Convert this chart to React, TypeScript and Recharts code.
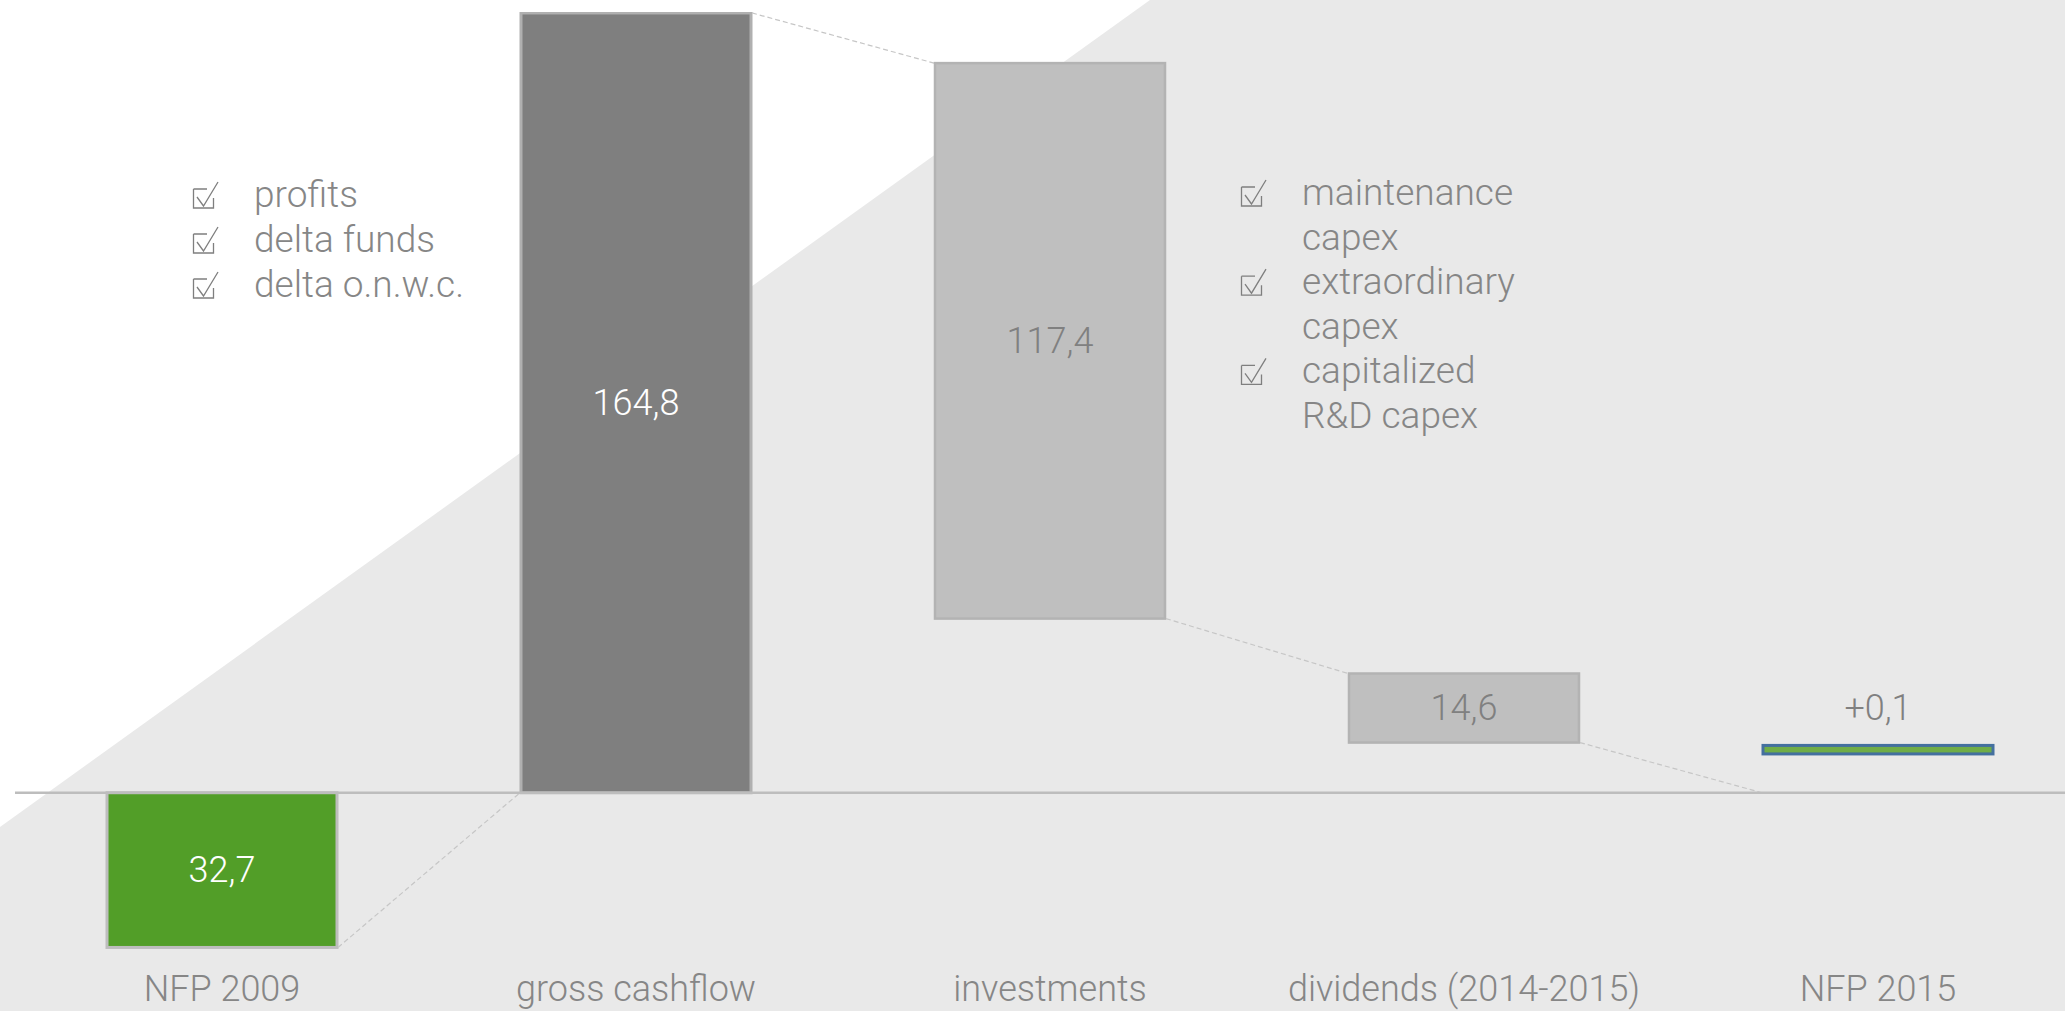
import React from 'react';
import { ComposedChart, Bar, XAxis, YAxis, ReferenceLine } from 'recharts';

// ---- data ----
const categories = ['NFP 2009', 'gross cashflow', 'investments', 'dividends (2014-2015)', 'NFP 2015'];
const valueLabels = ['32,7', '164,8', '117,4', '14,6', '+0,1'];
const barBottoms = [-32.7, 0, 36.8, 10.6, 8.2];
const barTops = [0, 164.8, 154.2, 25.2, 10.0];
// connector: value at right edge of this bar -> value at left edge of next bar
const connectorFrom: (number | null)[] = [-32.7, 164.8, 36.8, 10.6, null];
const connectorTo: (number | null)[] = [0, 154.2, 25.2, 0, null];
const legendLeft = ['profits', 'delta funds', 'delta o.n.w.c.'];
const legendRight = [
  ['maintenance', 'capex'],
  ['extraordinary', 'capex'],
  ['capitalized', 'R&D capex'],
];

// ---- styles ----
const barFills = ['#529e28', '#7f7f7f', '#bfbfbf', '#bfbfbf', '#70ad47'];
const barStrokes = ['#bdbdbd', '#b0b0b0', '#b3b3b3', '#b3b3b3', '#44709f'];
const barStrokeWidths = [3, 3, 2.5, 2.5, 3];
const labelColors = ['#ffffff', '#ffffff', '#808080', '#808080', '#808080'];
const TEXT = '#868686';
const FONT = 'Roboto, "Noto Sans", sans-serif';

const data = categories.map((name, i) => ({
  name,
  range: [barBottoms[i], barTops[i]],
}));

const W = 2065;
const H = 1011;
const ML = 15;
const BAND = 414;
const PLOT_W = BAND * categories.length;

const WaterfallShape = (props: any) => {
  const { x, width, index } = props;
  let { y, height } = props;
  if (height < 0) {
    y = y + height;
    height = -height;
  }
  const bottom = barBottoms[index];
  const top = barTops[index];
  const ppu = height / (top - bottom);
  const py = (v: number) => y + (top - v) * ppu;
  const from = connectorFrom[index];
  const to = connectorTo[index];
  const isLast = index === categories.length - 1;
  return (
    <g>
      <rect
        x={x}
        y={y}
        width={width}
        height={height}
        fill={barFills[index]}
        stroke={barStrokes[index]}
        strokeWidth={barStrokeWidths[index]}
      />
      {from !== null && to !== null && (
        <line
          x1={x + width + 1}
          y1={py(from)}
          x2={x + BAND - 1}
          y2={py(to)}
          stroke="#c6c6c6"
          strokeWidth={1.2}
          strokeDasharray="5 3"
        />
      )}
      <text
        x={x + width / 2}
        y={isLast ? y - 37 : y + height / 2}
        textAnchor="middle"
        dominantBaseline="central"
        fill={labelColors[index]}
        fontSize={36}
        fontWeight={300}
        fontFamily={FONT}
      >
        {valueLabels[index]}
      </text>
    </g>
  );
};

const CategoryTick = (props: any) => {
  const { x, y, payload } = props;
  return (
    <text
      x={x}
      y={y}
      dy={11}
      textAnchor="middle"
      fill={TEXT}
      fontSize={36}
      fontWeight={300}
      fontFamily={FONT}
    >
      {payload.value}
    </text>
  );
};

const CheckBox = ({ x, baseline }: { x: number; baseline: number }) => {
  const oy = baseline - 26;
  return (
    <g transform={`translate(${x},${oy})`} fill="none" stroke="#7f7f7f" strokeWidth={1.3}>
      <path d="M0.5,8 H14 M0.5,8 V27 H20.5 V17" />
      <path d="M4,16 L10.5,25 L25,1" />
    </g>
  );
};

export default function App() {
  const leftBaselines = [207, 252, 297];
  const rightStart = 205;
  const rightStep = 44.6;
  let row = 0;
  const rightItems: React.ReactNode[] = [];
  legendRight.forEach((lines, i) => {
    lines.forEach((ln, j) => {
      const b = rightStart + row * rightStep;
      if (j === 0) rightItems.push(<CheckBox key={`cb${i}`} x={1241} baseline={b} />);
      rightItems.push(
        <text key={`t${i}-${j}`} x={1302} y={b} fill={TEXT} fontSize={37} fontWeight={300} fontFamily={FONT}>
          {ln}
        </text>
      );
      row++;
    });
  });

  return (
    <div
      style={{
        position: 'absolute',
        left: 0,
        top: 0,
        width: W,
        height: H,
        overflow: 'hidden',
        background: '#e9e9e9',
      }}
    >
      <svg width={W} height={H} style={{ position: 'absolute', left: 0, top: 0 }}>
        <polygon points="0,0 1150,0 0,827" fill="#ffffff" />
      </svg>
      <div style={{ position: 'absolute', left: 0, top: 0 }}>
        <ComposedChart
          width={ML + PLOT_W}
          height={H}
          data={data}
          margin={{ top: 12, right: 0, bottom: 0, left: ML }}
        >
          <XAxis
            dataKey="name"
            axisLine={false}
            tickLine={false}
            height={29}
            interval={0}
            tick={<CategoryTick />}
          />
          <YAxis hide domain={[-40, 165]} allowDataOverflow />
          <Bar dataKey="range" barSize={230} shape={<WaterfallShape />} isAnimationActive={false} />
          <ReferenceLine y={0} stroke="#bdbdbd" strokeWidth={2.5} />
        </ComposedChart>
      </div>
      <svg width={W} height={H} style={{ position: 'absolute', left: 0, top: 0, pointerEvents: 'none' }}>
        {legendLeft.map((t, i) => (
          <g key={t}>
            <CheckBox x={193} baseline={leftBaselines[i]} />
            <text x={254} y={leftBaselines[i]} fill={TEXT} fontSize={37} fontWeight={300} fontFamily={FONT}>
              {t}
            </text>
          </g>
        ))}
        {rightItems}
      </svg>
    </div>
  );
}
